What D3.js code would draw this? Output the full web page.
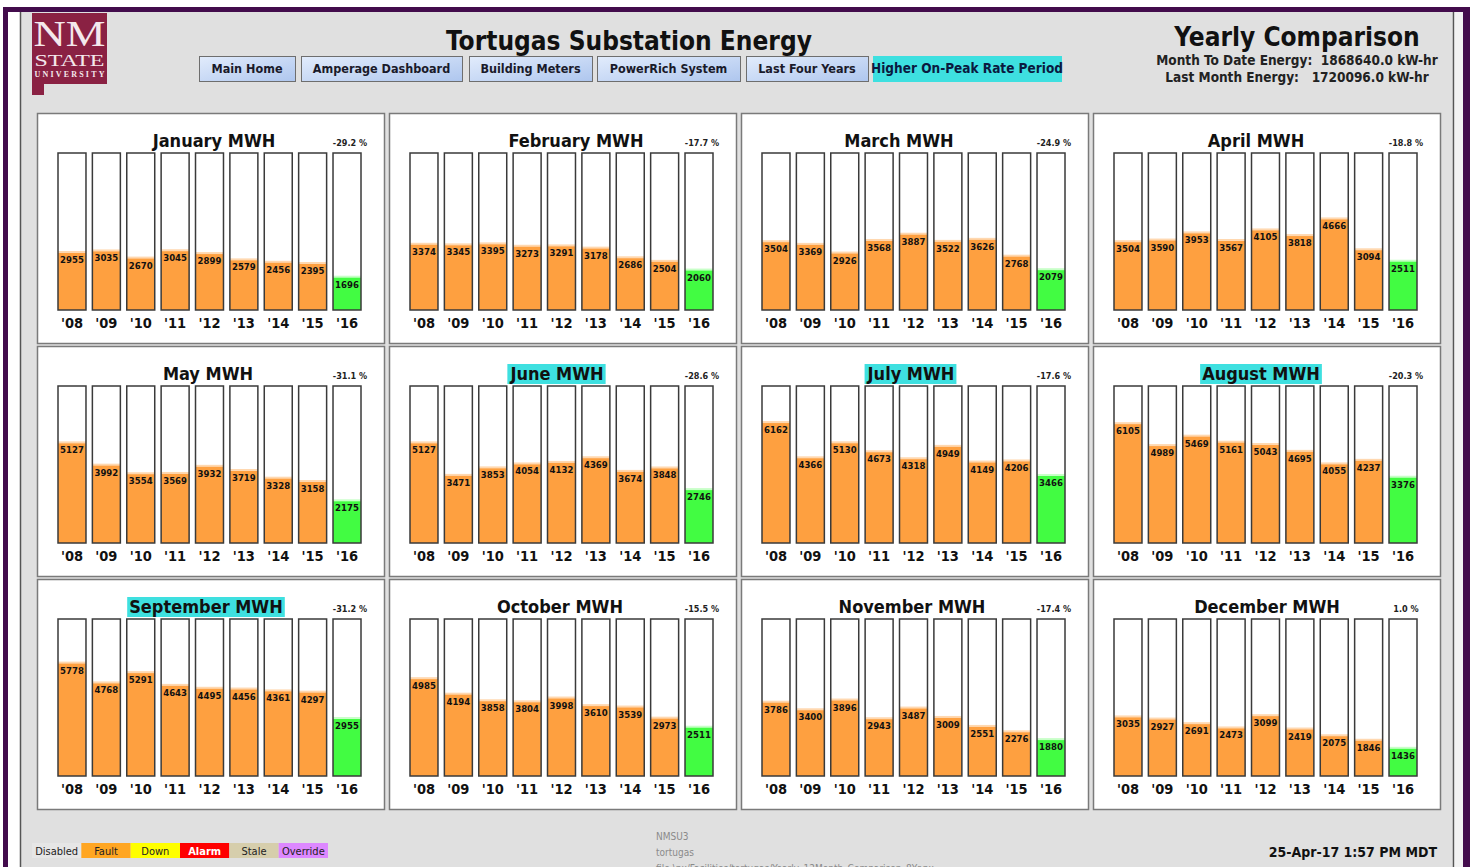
<!DOCTYPE html>
<html><head><meta charset="utf-8">
<script src="https://cdn.jsdelivr.net/npm/d3@7"></script>
<style>html,body{margin:0;padding:0;background:#fff;overflow:hidden}svg{display:block}</style>
</head><body>
<script>
const months = ["January","February","March","April","May","June","July","August","September","October","November","December"];
const yearLabels = ["'08","'09","'10","'11","'12","'13","'14","'15","'16"];
const jan = [2955,3035,2670,3045,2899,2579,2456,2395,1696];
const feb = [3374,3345,3395,3273,3291,3178,2686,2504,2060];
const mar = [3504,3369,2926,3568,3887,3522,3626,2768,2079];
const apr = [3504,3590,3953,3567,4105,3818,4666,3094,2511];
const may = [5127,3992,3554,3569,3932,3719,3328,3158,2175];
const jun = [5127,3471,3853,4054,4132,4369,3674,3848,2746];
const jul = [6162,4366,5130,4673,4318,4949,4149,4206,3466];
const aug = [6105,4989,5469,5161,5043,4695,4055,4237,3376];
const sep = [5778,4768,5291,4643,4495,4456,4361,4297,2955];
const oct = [4985,4194,3858,3804,3998,3610,3539,2973,2511];
const nov = [3786,3400,3896,2943,3487,3009,2551,2276,1880];
const dec = [3035,2927,2691,2473,3099,2419,2075,1846,1436];
const monthValues = [jan,feb,mar,apr,may,jun,jul,aug,sep,oct,nov,dec];
const pctChange = ["-29.2 %","-17.7 %","-24.9 %","-18.8 %","-31.1 %","-28.6 %","-17.6 %","-20.3 %","-31.2 %","-15.5 %","-17.4 %","1.0 %"];
const highlightMonths = ["June","July","August","September"];
const buttons = ["Main Home","Amperage Dashboard","Building Meters","PowerRich System","Last Four Years"];
const legendItems = ["Disabled","Fault","Down","Alarm","Stale","Override"];
const scaleMax = 8000;

// layout (not data): horizontal centre of each panel title, relative to panel
const titleCentre = [177,187,158,163,171,168,170,168,169,171,171,174];

const W = 1470, H = 867;
const FONT = "'DejaVu Sans Condensed','DejaVu Sans',Tahoma,sans-serif";
const svg = d3.select("body").append("svg").attr("width", W).attr("height", H)
  .style("font-family", FONT);

const defs = svg.append("defs");
const g1 = defs.append("linearGradient").attr("id","btn").attr("x1","0").attr("y1","0").attr("x2","1").attr("y2","1");
g1.append("stop").attr("offset","0").attr("stop-color","#e2ecfc");
g1.append("stop").attr("offset","1").attr("stop-color","#aec6ee");

// page frame
svg.append("rect").attr("x",0).attr("y",0).attr("width",W).attr("height",H).attr("fill","#fff");
svg.append("rect").attr("x",20).attr("y",12).attr("width",1433).attr("height",H-12).attr("fill","#e0e0e0");
svg.append("line").attr("x1",20.5).attr("x2",20.5).attr("y1",12).attr("y2",H).attr("stroke","#555").attr("stroke-width",1.5);
svg.append("line").attr("x1",1453.5).attr("x2",1453.5).attr("y1",12).attr("y2",H).attr("stroke","#555").attr("stroke-width",1.5);
svg.append("rect").attr("x",1455).attr("y",12).attr("width",8).attr("height",H-12).attr("fill","#f2f2f2");
const purple = "#430c4c";
svg.append("rect").attr("x",3).attr("y",7).attr("width",W-3).attr("height",5).attr("fill",purple);
svg.append("rect").attr("x",3).attr("y",7).attr("width",5).attr("height",H-7).attr("fill",purple);
svg.append("rect").attr("x",1463).attr("y",7).attr("width",7).attr("height",H-7).attr("fill",purple);

// logo
const logo = svg.append("g");
logo.append("path").attr("d","M32,13 L107,13 L107,84 L44,84 L44,95 L32,95 Z").attr("fill","#8a2143");
const serif = "'Liberation Serif','DejaVu Serif',serif";
logo.append("text").attr("x",69.5).attr("y",46).attr("text-anchor","middle").attr("fill","#f4e8ec")
  .style("font-family",serif).style("font-size","36px").attr("textLength",72).attr("lengthAdjust","spacingAndGlyphs").text("NM");
logo.append("text").attr("x",69.5).attr("y",66).attr("text-anchor","middle").attr("fill","#f4e8ec")
  .style("font-family",serif).style("font-size","16px").attr("textLength",70).attr("lengthAdjust","spacingAndGlyphs").text("STATE");
logo.append("text").attr("x",69.5).attr("y",77).attr("text-anchor","middle").attr("fill","#f4e8ec")
  .style("font-family",serif).style("font-size","8px").style("font-weight","bold").attr("textLength",70).attr("lengthAdjust","spacing").text("UNIVERSITY");

// title
svg.append("text").attr("x",629).attr("y",50).attr("text-anchor","middle").style("font-size","26px").style("font-weight","bold").attr("fill","#111").text("Tortugas Substation Energy");

// buttons
const btnX = d3.scaleOrdinal().domain(buttons).range([199,301,469,597,746]);
const btnW = d3.scaleOrdinal().domain(buttons).range([96,161,123,143,122]);
const bg = svg.append("g").selectAll("g").data(buttons).join("g").attr("transform", d => `translate(${btnX(d)},56)`);
bg.append("rect").attr("x",0.5).attr("y",0.5).attr("width",d=>btnW(d)).attr("height",25).attr("fill","url(#btn)").attr("stroke","#6e6e6e");
bg.append("text").attr("x",d=>btnW(d)/2).attr("y",17).attr("text-anchor","middle").style("font-size","12.5px").style("font-weight","bold").attr("fill","#1a1a2a").text(d=>d);
svg.append("rect").attr("x",873).attr("y",56).attr("width",189).attr("height",26).attr("fill","#3ee0e0");
svg.append("text").attr("x",967).attr("y",73).attr("text-anchor","middle").style("font-size","13.5px").style("font-weight","bold").attr("fill","#0a1a40").text("Higher On-Peak Rate Period");

// right header
svg.append("text").attr("x",1297).attr("y",46).attr("text-anchor","middle").style("font-size","26px").style("font-weight","bold").attr("fill","#111").text("Yearly Comparison");
svg.append("text").attr("x",1297).attr("y",65).attr("text-anchor","middle").style("font-size","13.5px").style("font-weight","bold").attr("fill","#222").attr("xml:space","preserve").text("Month To Date Energy:  1868640.0 kW-hr");
svg.append("text").attr("x",1297).attr("y",82).attr("text-anchor","middle").style("font-size","13.5px").style("font-weight","bold").attr("fill","#222").attr("xml:space","preserve").text("Last Month Energy:   1720096.0 kW-hr");

// panels
const colX = [37,389,741,1093], rowY = [113,346,579];
const PW = 347, PH = 230;
months.forEach((m, i) => {
  const x0 = colX[i % 4], y0 = rowY[Math.floor(i / 4)];
  const vals = monthValues[i];
  const p = svg.append("g").attr("transform", `translate(${x0},${y0})`);
  p.append("rect").attr("x",0.5).attr("y",0.5).attr("width",PW).attr("height",PH).attr("fill","#fff").attr("stroke","#7a7a7a").attr("stroke-width",1.5);
  const xs = d3.scaleBand().domain(yearLabels).range([21,324]).paddingInner(0.186).paddingOuter(0);
  const ys = d3.scaleLinear().domain([0, scaleMax]).range([197, 40]);
  const title = p.append("text").attr("x",titleCentre[i]).attr("y",34).attr("text-anchor","middle").style("font-size","18px").style("font-weight","bold").attr("fill","#111").text(m + " MWH");
  if (highlightMonths.includes(m)) {
    const bb = title.node().getBBox();
    p.insert("rect", "text").attr("x",bb.x-2).attr("y",bb.y+1).attr("width",bb.width+4).attr("height",bb.height-1).attr("fill","#3ee0e0");
  }
  p.append("text").attr("x",313).attr("y",33).attr("text-anchor","middle").style("font-size","9px").style("font-weight","bold").attr("fill","#222").text(pctChange[i]);
  const bars = p.append("g").selectAll("g").data(vals).join("g").attr("transform",(d,j)=>`translate(${xs(yearLabels[j])},0)`);
  const bw = xs.bandwidth();
  bars.append("rect").attr("x",0).attr("y",ys(scaleMax)).attr("width",bw).attr("height",ys(0)-ys(scaleMax)).attr("fill","#fff");
  bars.append("rect").attr("x",0).attr("y",d=>ys(d)).attr("width",bw).attr("height",d=>ys(0)-ys(d))
    .attr("fill",(d,j)=> j === vals.length-1 ? "#42fc42" : "#fea040");
  bars.append("rect").attr("x",0).attr("y",d=>ys(d)-1).attr("width",bw).attr("height",2)
    .attr("fill",(d,j)=> j === vals.length-1 ? "#c8ffc8" : "#ffd8b0");
  bars.append("rect").attr("x",0).attr("y",ys(scaleMax)).attr("width",bw).attr("height",ys(0)-ys(scaleMax)).attr("fill","none").attr("stroke","#3a3a3a").attr("stroke-width",1.5);
  bars.append("text").attr("x",bw/2).attr("y",d=>ys(d)+11).attr("text-anchor","middle").style("font-size","9.5px").style("font-weight","bold").attr("fill","#111").text(d=>d);
  p.append("g").selectAll("text").data(yearLabels).join("text").attr("x",d=>xs(d)+bw/2).attr("y",215).attr("text-anchor","middle")
    .style("font-size","14.5px").style("font-weight","bold").attr("fill","#111").text(d=>d);
});

// legend
const legFill = d3.scaleOrdinal().domain(legendItems).range(["#e6e6e6","#ffa622","#ffff00","#ff0000","#d6ceac","#dd88ff"]);
const legX = d3.scaleBand().domain(legendItems).range([32,328]);
const lg = svg.append("g").selectAll("g").data(legendItems).join("g").attr("transform",d=>`translate(${legX(d)},843)`);
lg.append("rect").attr("width",legX.bandwidth()).attr("height",15).attr("fill",d=>legFill(d));
lg.append("text").attr("x",legX.bandwidth()/2).attr("y",12).attr("text-anchor","middle").style("font-size","11px")
  .style("font-weight",d=>d==="Alarm"?"bold":"normal").attr("fill",d=>d==="Alarm"?"#fff":"#222").text(d=>d);

// footer
const foot = ["NMSU3","tortugas","file:\\px/Facilities/tortugas/Yearly_12Month_Comparison_8Yr.px"];
svg.append("g").selectAll("text").data(foot).join("text").attr("x",656).attr("y",(d,i)=>840+i*16)
  .style("font-size","10px").attr("fill","#8a8a8a").text(d=>d);
svg.append("text").attr("x",1437).attr("y",857).attr("text-anchor","end").style("font-size","14px").style("font-weight","bold").attr("fill","#111").text("25-Apr-17 1:57 PM MDT");
</script>
</body></html>
